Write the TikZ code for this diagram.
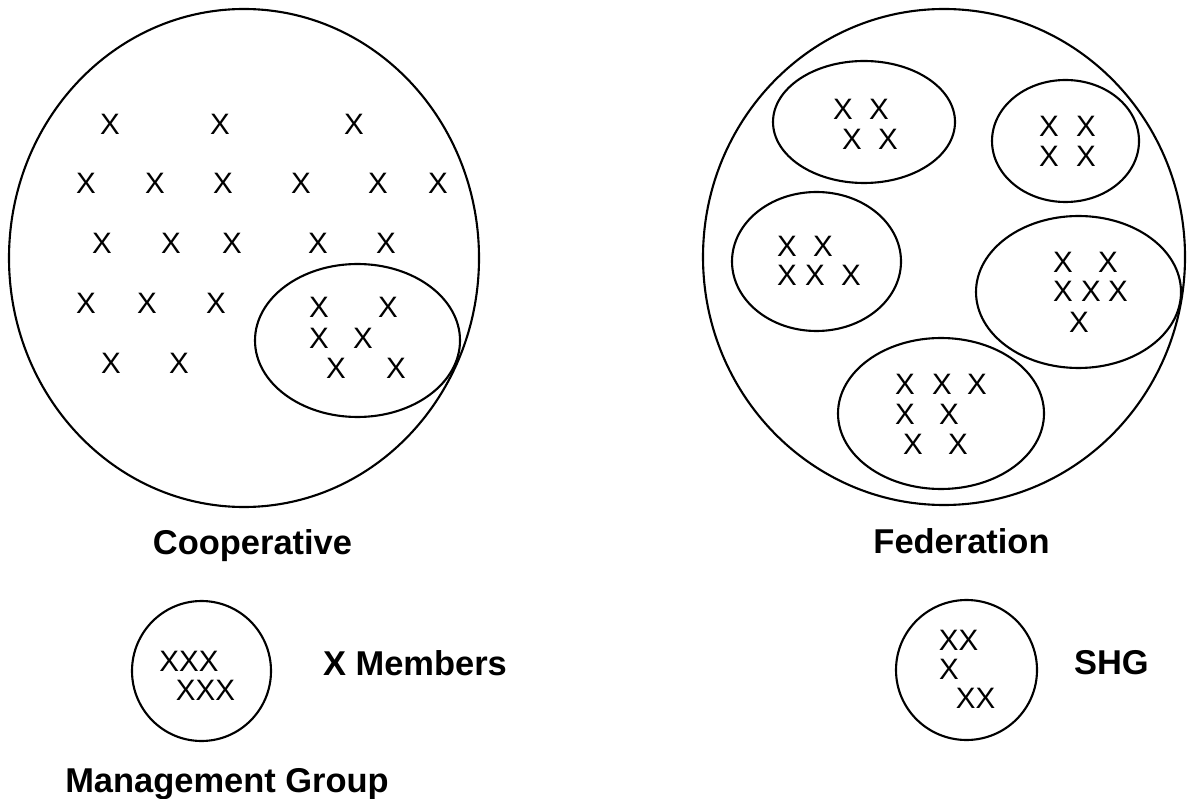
\documentclass[tikz,border=0pt]{standalone}
\usepackage{fontspec}
\setmainfont{Liberation Sans}
\usepackage{tikz}

\begin{document}
\begin{tikzpicture}[x=0.025cm, y=-0.025cm, line width=1.5pt,
	member/.style={font=\fontsize{21}{24}\selectfont, inner sep=0pt},
	caption/.style={font=\fontsize{24.5}{28}\selectfont\bfseries, inner sep=0pt, anchor=base}]
	\useasboundingbox (0,0) rectangle (1187,799);
	% cooperative
	\draw (244,258) ellipse [x radius=235, y radius=249];
	\draw (357.5,340.5) ellipse [x radius=102.5, y radius=76.5];
	\foreach \px/\py [count=\i] in {110/124, 220/124, 354/124,
		86/183, 155/183, 223/183, 301/183, 378/183, 438/183,
		102/243, 171/243, 232/243, 318/243, 386/243,
		86/303, 147/303, 216/303, 111/363, 179/363}
		\node [member] (coop\i) at (\px,\py) {X};
	\foreach \px/\py [count=\i] in {319/307, 388/307, 319/338, 363/338, 336/368, 396/368}
		\node [member] (mgmt\i) at (\px,\py) {X};
	% federation
	\draw (944,257) ellipse [x radius=241, y radius=248];
	\draw (864,122) ellipse [x radius=91, y radius=61];
	\draw (1065.5,141) ellipse [x radius=73.5, y radius=61];
	\draw (816.5,261.5) ellipse [x radius=84.5, y radius=69.5];
	\draw (1078.5,292) ellipse [x radius=102.5, y radius=76];
	\draw (941,413.5) ellipse [x radius=103, y radius=75.5];
	\foreach \px/\py [count=\i] in {843/109, 879/109, 852/139, 888/139,
		1049/126, 1086/126, 1049/156, 1086/156,
		787/246, 823/246, 787/275, 815/275, 851/275,
		1063/262, 1108/262, 1063/291, 1091/291, 1118/291, 1079/322,
		905/384, 942/384, 977/384, 905/414, 949/414, 913/444, 958/444}
		\node [member] (fed\i) at (\px,\py) {X};
	% captions
	\node [caption] (cooplabel) at (252.5,554) {Cooperative};
	\node [caption] (fedlabel) at (961.5,553) {Federation};
	% legend
	\draw (201.5,671) ellipse [x radius=69.5, y radius=70];
	\node [member] (mgrow1) at (189,661) {XXX};
	\node [member] (mgrow2) at (205.5,690) {XXX};
	\node [caption, anchor=base west] (memberkey) at (322,675) {X Members};
	\node [caption] (mgmtlabel) at (227,792) {Management Group};
	\draw (966.5,670) ellipse [x radius=70.5, y radius=70];
	\node [member] (shgrow1) at (958.5,640) {XX};
	\node [member] (shgrow2) at (949,669) {X};
	\node [member] (shgrow3) at (975.5,698) {XX};
	\node [caption, anchor=base west] (shgkey) at (1073,674) {SHG};
\end{tikzpicture}
\end{document}
